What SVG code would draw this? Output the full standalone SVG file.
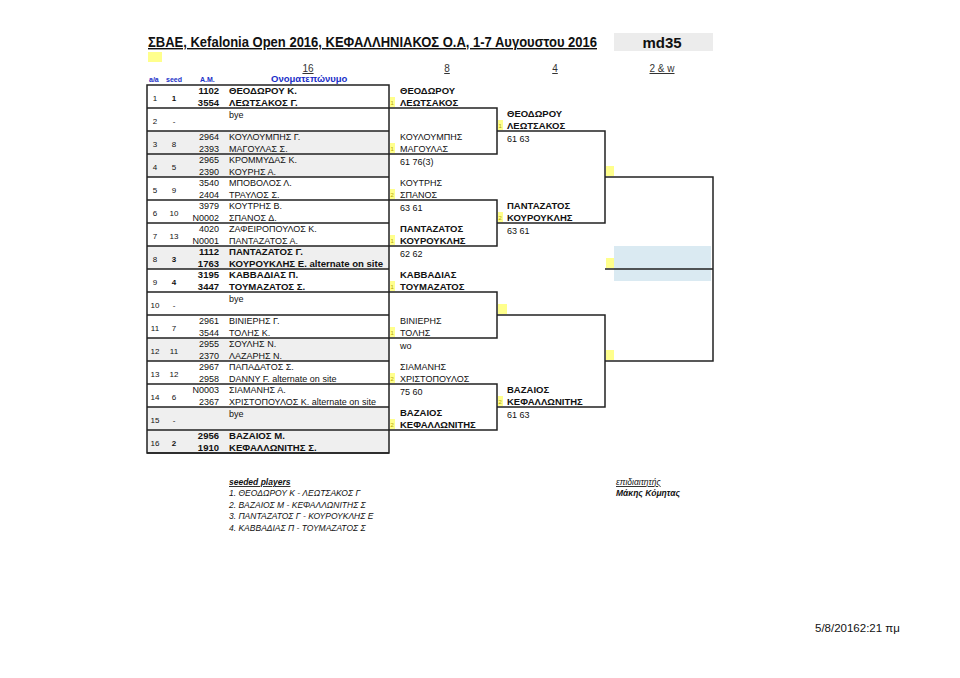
<svg xmlns="http://www.w3.org/2000/svg" width="960" height="678" viewBox="0 0 960 678">
<style>
text{font-family:"Liberation Sans",Arial,sans-serif;fill:#111}
.t{font-size:9px}
.b{font-weight:bold}
.t.b{font-size:9.5px}
.tb{font-size:9.6px;font-weight:bold}
.n{font-size:8px}
.am{font-size:9px;text-anchor:end}
.am.b{font-size:9.5px}
.hd{font-size:10px;fill:#333;text-decoration:underline;text-anchor:middle}
.bl{fill:#1a2fc8;font-weight:bold}
.mk{fill:#ffff8c}
.mt{font-size:6px;fill:#b8a800}
.ln{stroke:#222;stroke-width:1.5;fill:none}
.it{font-size:8.5px;font-style:italic}
</style>
<rect width="960" height="678" fill="#fff"/>
<g id="header">
<text x="148" y="47" font-size="14" font-weight="bold" text-decoration="underline" textLength="449" lengthAdjust="spacingAndGlyphs">ΣΒΑΕ, Kefalonia Open 2016, ΚΕΦΑΛΛΗΝΙΑΚΟΣ Ο.Α, 1-7 Αυγουστου 2016</text>
<rect x="614" y="33" width="99" height="18" fill="#ececec"/>
<text x="662" y="48" font-size="15" font-weight="bold" text-anchor="middle">md35</text>
<rect x="148" y="52" width="14" height="10" class="mk"/>
<text x="308" y="72" class="hd">16</text>
<text x="447" y="72" class="hd">8</text>
<text x="555" y="72" class="hd">4</text>
<text x="662" y="72" class="hd">2 &amp; w</text>
<text x="149" y="82" font-size="7" class="bl">a/a</text>
<text x="166" y="82" font-size="7" class="bl">seed</text>
<text x="200" y="82" font-size="7" class="bl">A.M.</text>
<text x="271" y="82" font-size="9.5" class="bl">Ονοματεπώνυμο</text>
</g>
<g id="table">
<rect x="147" y="131" width="242" height="46" fill="#efefef"/>
<rect x="147" y="246" width="242" height="23" fill="#efefef"/>
<rect x="147" y="338" width="242" height="23" fill="#efefef"/>
<rect x="147" y="407" width="242" height="46" fill="#efefef"/>
<g id="row1"><text x="155" y="100.5" class="n" text-anchor="middle">1</text><text x="174" y="100.5" class="n b" text-anchor="middle">1</text><text x="219" y="93.5" class="am b">1102</text><text x="229" y="93.5" class="tb">ΘΕΟΔΩΡΟΥ Κ.</text><text x="219" y="105.5" class="am b">3554</text><text x="229" y="105.5" class="tb">ΛΕΩΤΣΑΚΟΣ Γ.</text></g>
<g id="row2"><text x="155" y="123.5" class="n" text-anchor="middle">2</text><text x="174" y="123.5" class="n" text-anchor="middle">-</text><text x="229" y="117.5" class="t">bye</text></g>
<g id="row3"><text x="155" y="146.5" class="n" text-anchor="middle">3</text><text x="174" y="146.5" class="n" text-anchor="middle">8</text><text x="219" y="139.5" class="am">2964</text><text x="229" y="139.5" class="t">ΚΟΥΛΟΥΜΠΗΣ Γ.</text><text x="219" y="151.5" class="am">2393</text><text x="229" y="151.5" class="t">ΜΑΓΟΥΛΑΣ Σ.</text></g>
<g id="row4"><text x="155" y="169.5" class="n" text-anchor="middle">4</text><text x="174" y="169.5" class="n" text-anchor="middle">5</text><text x="219" y="162.5" class="am">2965</text><text x="229" y="162.5" class="t">ΚΡΟΜΜΥΔΑΣ Κ.</text><text x="219" y="174.5" class="am">2390</text><text x="229" y="174.5" class="t">ΚΟΥΡΗΣ Α.</text></g>
<g id="row5"><text x="155" y="192.5" class="n" text-anchor="middle">5</text><text x="174" y="192.5" class="n" text-anchor="middle">9</text><text x="219" y="185.5" class="am">3540</text><text x="229" y="185.5" class="t">ΜΠΟΒΟΛΟΣ Λ.</text><text x="219" y="197.5" class="am">2404</text><text x="229" y="197.5" class="t">ΤΡΑΥΛΟΣ Σ.</text></g>
<g id="row6"><text x="155" y="215.5" class="n" text-anchor="middle">6</text><text x="174" y="215.5" class="n" text-anchor="middle">10</text><text x="219" y="208.5" class="am">3979</text><text x="229" y="208.5" class="t">ΚΟΥΤΡΗΣ Β.</text><text x="219" y="220.5" class="am">N0002</text><text x="229" y="220.5" class="t">ΣΠΑΝΟΣ Δ.</text></g>
<g id="row7"><text x="155" y="238.5" class="n" text-anchor="middle">7</text><text x="174" y="238.5" class="n" text-anchor="middle">13</text><text x="219" y="231.5" class="am">4020</text><text x="229" y="231.5" class="t">ΖΑΦΕΙΡΟΠΟΥΛΟΣ Κ.</text><text x="219" y="243.5" class="am">N0001</text><text x="229" y="243.5" class="t">ΠΑΝΤΑΖΑΤΟΣ Α.</text></g>
<g id="row8"><text x="155" y="261.5" class="n" text-anchor="middle">8</text><text x="174" y="261.5" class="n b" text-anchor="middle">3</text><text x="219" y="254.5" class="am b">1112</text><text x="229" y="254.5" class="tb">ΠΑΝΤΑΖΑΤΟΣ Γ.</text><text x="219" y="266.5" class="am b">1763</text><text x="229" y="266.5" class="tb">ΚΟΥΡΟΥΚΛΗΣ Ε. alternate on site</text></g>
<g id="row9"><text x="155" y="284.5" class="n" text-anchor="middle">9</text><text x="174" y="284.5" class="n b" text-anchor="middle">4</text><text x="219" y="277.5" class="am b">3195</text><text x="229" y="277.5" class="tb">ΚΑΒΒΑΔΙΑΣ Π.</text><text x="219" y="289.5" class="am b">3447</text><text x="229" y="289.5" class="tb">ΤΟΥΜΑΖΑΤΟΣ Σ.</text></g>
<g id="row10"><text x="155" y="307.5" class="n" text-anchor="middle">10</text><text x="174" y="307.5" class="n" text-anchor="middle">-</text><text x="229" y="301.5" class="t">bye</text></g>
<g id="row11"><text x="155" y="330.5" class="n" text-anchor="middle">11</text><text x="174" y="330.5" class="n" text-anchor="middle">7</text><text x="219" y="323.5" class="am">2961</text><text x="229" y="323.5" class="t">ΒΙΝΙΕΡΗΣ Γ.</text><text x="219" y="335.5" class="am">3544</text><text x="229" y="335.5" class="t">ΤΟΛΗΣ Κ.</text></g>
<g id="row12"><text x="155" y="353.5" class="n" text-anchor="middle">12</text><text x="174" y="353.5" class="n" text-anchor="middle">11</text><text x="219" y="346.5" class="am">2955</text><text x="229" y="346.5" class="t">ΣΟΥΛΗΣ Ν.</text><text x="219" y="358.5" class="am">2370</text><text x="229" y="358.5" class="t">ΛΑΖΑΡΗΣ Ν.</text></g>
<g id="row13"><text x="155" y="376.5" class="n" text-anchor="middle">13</text><text x="174" y="376.5" class="n" text-anchor="middle">12</text><text x="219" y="369.5" class="am">2967</text><text x="229" y="369.5" class="t">ΠΑΠΑΔΑΤΟΣ Σ.</text><text x="219" y="381.5" class="am">2958</text><text x="229" y="381.5" class="t">DANNY F. alternate on site</text></g>
<g id="row14"><text x="155" y="399.5" class="n" text-anchor="middle">14</text><text x="174" y="399.5" class="n" text-anchor="middle">6</text><text x="219" y="392.5" class="am">N0003</text><text x="229" y="392.5" class="t">ΣΙΑΜΑΝΗΣ Α.</text><text x="219" y="404.5" class="am">2367</text><text x="229" y="404.5" class="t">ΧΡΙΣΤΟΠΟΥΛΟΣ Κ. alternate on site</text></g>
<g id="row15"><text x="155" y="422.5" class="n" text-anchor="middle">15</text><text x="174" y="422.5" class="n" text-anchor="middle">-</text><text x="229" y="416.5" class="t">bye</text></g>
<g id="row16"><text x="155" y="445.5" class="n" text-anchor="middle">16</text><text x="174" y="445.5" class="n b" text-anchor="middle">2</text><text x="219" y="438.5" class="am b">2956</text><text x="229" y="438.5" class="tb">ΒΑΖΑΙΟΣ Μ.</text><text x="219" y="450.5" class="am b">1910</text><text x="229" y="450.5" class="tb">ΚΕΦΑΛΛΩΝΙΤΗΣ Σ.</text></g>
</g>
<rect x="614" y="246" width="97" height="35" fill="#daeaf2"/>
<g id="connectors">
<rect x="147" y="85" width="242" height="368" class="ln"/>
<path class="ln" d="M147 131H389M147 177H389M147 223H389M147 269H389M147 315H389M147 361H389M147 407H389M147 453H389"/>
<path class="ln" d="M147 108H497V154H147M147 200H497V246H147M147 292H497V338H147M147 384H497V430H147"/>
<path class="ln" d="M497 131H605V223H497M497 315H605V407H497"/>
<path class="ln" d="M605 177H713V361H605M605 269H713"/>
</g>
<g id="r8-1"><rect x="390" y="97" width="5" height="10" class="mk"/><text x="390.5" y="105" class="mt">1</text><text x="400" y="94" class="t b">ΘΕΟΔΩΡΟΥ</text><text x="400" y="105.5" class="t b">ΛΕΩΤΣΑΚΟΣ</text></g>
<g id="r8-2"><rect x="390" y="143" width="5" height="10" class="mk"/><text x="390.5" y="151" class="mt">1</text><text x="400" y="140" class="t">ΚΟΥΛΟΥΜΠΗΣ</text><text x="400" y="151.5" class="t">ΜΑΓΟΥΛΑΣ</text><text x="400" y="164.5" class="t">61 76(3)</text></g>
<g id="r8-3"><rect x="390" y="189" width="5" height="10" class="mk"/><text x="390.5" y="197" class="mt">2</text><text x="400" y="186" class="t">ΚΟΥΤΡΗΣ</text><text x="400" y="197.5" class="t">ΣΠΑΝΟΣ</text><text x="400" y="210.5" class="t">63 61</text></g>
<g id="r8-4"><rect x="390" y="235" width="5" height="10" class="mk"/><text x="390.5" y="243" class="mt">1</text><text x="400" y="232" class="t b">ΠΑΝΤΑΖΑΤΟΣ</text><text x="400" y="243.5" class="t b">ΚΟΥΡΟΥΚΛΗΣ</text><text x="400" y="256.5" class="t">62 62</text></g>
<g id="r8-5"><rect x="390" y="281" width="5" height="10" class="mk"/><text x="390.5" y="289" class="mt">1</text><text x="400" y="278" class="t b">ΚΑΒΒΑΔΙΑΣ</text><text x="400" y="289.5" class="t b">ΤΟΥΜΑΖΑΤΟΣ</text></g>
<g id="r8-6"><rect x="390" y="327" width="5" height="10" class="mk"/><text x="390.5" y="335" class="mt">1</text><text x="400" y="324" class="t">ΒΙΝΙΕΡΗΣ</text><text x="400" y="335.5" class="t">ΤΟΛΗΣ</text><text x="400" y="348.5" class="t">wo</text></g>
<g id="r8-7"><rect x="390" y="373" width="5" height="10" class="mk"/><text x="390.5" y="381" class="mt">2</text><text x="400" y="370" class="t">ΣΙΑΜΑΝΗΣ</text><text x="400" y="381.5" class="t">ΧΡΙΣΤΟΠΟΥΛΟΣ</text><text x="400" y="394.5" class="t">75 60</text></g>
<g id="r8-8"><rect x="390" y="419" width="5" height="10" class="mk"/><text x="390.5" y="427" class="mt">2</text><text x="400" y="416" class="t b">ΒΑΖΑΙΟΣ</text><text x="400" y="427.5" class="t b">ΚΕΦΑΛΛΩΝΙΤΗΣ</text></g>
<g id="r4-1"><rect x="498" y="120" width="5" height="10" class="mk"/><text x="498.5" y="128" class="mt">1</text><text x="507" y="117" class="t b">ΘΕΟΔΩΡΟΥ</text><text x="507" y="128.5" class="t b">ΛΕΩΤΣΑΚΟΣ</text><text x="507" y="141.5" class="t">61 63</text></g>
<g id="r4-2"><rect x="498" y="212" width="5" height="10" class="mk"/><text x="498.5" y="220" class="mt">2</text><text x="507" y="209" class="t b">ΠΑΝΤΑΖΑΤΟΣ</text><text x="507" y="220.5" class="t b">ΚΟΥΡΟΥΚΛΗΣ</text><text x="507" y="233.5" class="t">63 61</text></g>
<g id="r4-3"><rect x="498" y="304" width="9" height="10" class="mk"/></g>
<g id="r4-4"><rect x="498" y="396" width="5" height="10" class="mk"/><text x="498.5" y="404" class="mt">2</text><text x="507" y="393" class="t b">ΒΑΖΑΙΟΣ</text><text x="507" y="404.5" class="t b">ΚΕΦΑΛΛΩΝΙΤΗΣ</text><text x="507" y="417.5" class="t">61 63</text></g>
<g id="r2-1"><rect x="606" y="166" width="8" height="10" class="mk"/></g>
<g id="final"><rect x="606" y="258" width="8" height="10" class="mk"/></g>
<g id="r2-2"><rect x="606" y="350" width="8" height="10" class="mk"/></g>
<g id="seeded">
<text x="229" y="485" class="it b" text-decoration="underline">seeded players</text>
<text x="229" y="496" class="it">1. ΘΕΟΔΩΡΟΥ Κ - ΛΕΩΤΣΑΚΟΣ Γ</text>
<text x="229" y="508" class="it">2. ΒΑΖΑΙΟΣ Μ - ΚΕΦΑΛΛΩΝΙΤΗΣ Σ</text>
<text x="229" y="519" class="it">3. ΠΑΝΤΑΖΑΤΟΣ Γ - ΚΟΥΡΟΥΚΛΗΣ Ε</text>
<text x="229" y="531" class="it">4. ΚΑΒΒΑΔΙΑΣ Π - ΤΟΥΜΑΖΑΤΟΣ Σ</text>
</g>
<g id="referee">
<text x="616" y="485" class="it" text-decoration="underline">επιδιαιτητής</text>
<text x="616" y="496" class="it b" font-size="8">Μάκης Κόμητας</text>
</g>
<text x="815" y="632" font-size="11.5">5/8/20162:21 πμ</text>
</svg>
